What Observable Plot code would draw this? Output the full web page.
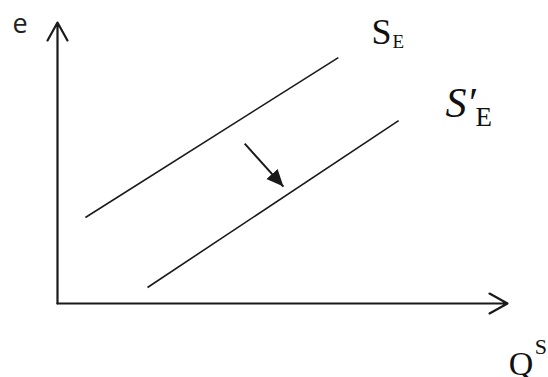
<!DOCTYPE html>
<html><head><meta charset="utf-8">
<script src="https://cdn.jsdelivr.net/npm/d3@7"></script>
<script src="https://cdn.jsdelivr.net/npm/@observablehq/plot@0.6"></script>
<style>html,body{margin:0;padding:0;background:#fff;}</style>
</head><body><div id="chart"></div>
<script>
// Axes (Q on x, e on y), in abstract units
const axes = [
  {x1: 0, y1: 0, x2: 0, y2: 10},
  {x1: 0, y1: 0, x2: 10, y2: 0}
];
// Supply curves
const curveNames = ["S_E", "S'_E"];
const curveQ1 = [0.62, 2.0];
const curveE1 = [3.06, 0.57];
const curveQ2 = [6.24, 7.58];
const curveE2 = [8.75, 6.51];
const curves = curveNames.map((n, i) => ({name: n, x1: curveQ1[i], y1: curveE1[i], x2: curveQ2[i], y2: curveE2[i]}));
// Shift arrow
const shift = [{x1: 4.16, y1: 5.69, x2: 5.02, y2: 4.16}];
// Labels
const mainLabels = ["e", "S", "S\u2032", "Q"];
const labelQ = [-1.0, 6.98, 8.62, 10.03];
const labelE = [9.61, 9.22, 6.62, -2.56];
const labels = mainLabels.map((t, i) => ({text: t, x: labelQ[i], y: labelE[i]}));

const svgns = "http://www.w3.org/2000/svg";
function filledHead(color) {
  const m = document.createElementNS(svgns, "marker");
  m.setAttribute("viewBox", "-17 -8 17 16");
  m.setAttribute("markerUnits", "userSpaceOnUse");
  m.setAttribute("markerWidth", 17);
  m.setAttribute("markerHeight", 16);
  m.setAttribute("refX", 0);
  m.setAttribute("refY", 0);
  m.setAttribute("orient", "auto");
  const p = document.createElementNS(svgns, "path");
  p.setAttribute("d", "M-17,-7.5L0,0L-17,7.5Z");
  p.setAttribute("fill", color);
  p.setAttribute("stroke", "none");
  m.appendChild(p);
  return m;
}

const serif = "'Liberation Serif', 'Times New Roman', serif";
const plot = Plot.plot({
  width: 548, height: 377,
  marginLeft: 57, marginRight: 41, marginTop: 22, marginBottom: 74,
  x: {domain: [0, 10], axis: null},
  y: {domain: [0, 10], axis: null},
  style: {background: "#fff", overflow: "visible"},
  marks: [
    Plot.arrow(axes, {x1: "x1", y1: "y1", x2: "x2", y2: "y2", stroke: "#1a1a1a", strokeWidth: 2.2, headLength: 14, headAngle: 58}),
    Plot.link(curves, {x1: "x1", y1: "y1", x2: "x2", y2: "y2", stroke: "#1a1a1a", strokeWidth: 1.6}),
    Plot.link(shift, {x1: "x1", y1: "y1", x2: "x2", y2: "y2", stroke: "#1a1a1a", strokeWidth: 2, markerEnd: filledHead}),
    // e label
    Plot.text([labels[0]], {x: "x", y: "y", text: "text", textAnchor: "start", lineAnchor: "bottom", fontSize: 27, fontFamily: "'Open Sans', sans-serif", fill: "#222"}),
    // S_E
    Plot.text([labels[1]], {x: "x", y: "y", text: "text", textAnchor: "start", lineAnchor: "bottom", fontSize: 36, fontFamily: serif, fill: "#111"}),
    Plot.text([labels[1]], {x: "x", y: "y", text: () => "E", dx: 21, dy: 4, textAnchor: "start", lineAnchor: "bottom", fontSize: 19, fontFamily: serif, fill: "#111"}),
    // S'_E
    Plot.text([labels[2]], {x: "x", y: "y", text: "text", textAnchor: "start", lineAnchor: "bottom", fontSize: 42, fontStyle: "italic", fontFamily: serif, fill: "#111"}),
    Plot.text([labels[2]], {x: "x", y: "y", text: () => "E", dx: 30, dy: 9, textAnchor: "start", lineAnchor: "bottom", fontSize: 27, fontFamily: serif, fill: "#111"}),
    // Q^S
    Plot.text([labels[3]], {x: "x", y: "y", text: "text", textAnchor: "start", lineAnchor: "bottom", fontSize: 34, fontFamily: serif, fill: "#111"}),
    Plot.text([labels[3]], {x: "x", y: "y", text: () => "S", dx: 26, dy: -21, textAnchor: "start", lineAnchor: "bottom", fontSize: 22, fontFamily: serif, fill: "#111"})
  ]
});
document.getElementById("chart").appendChild(plot);
</script>
</body></html>
